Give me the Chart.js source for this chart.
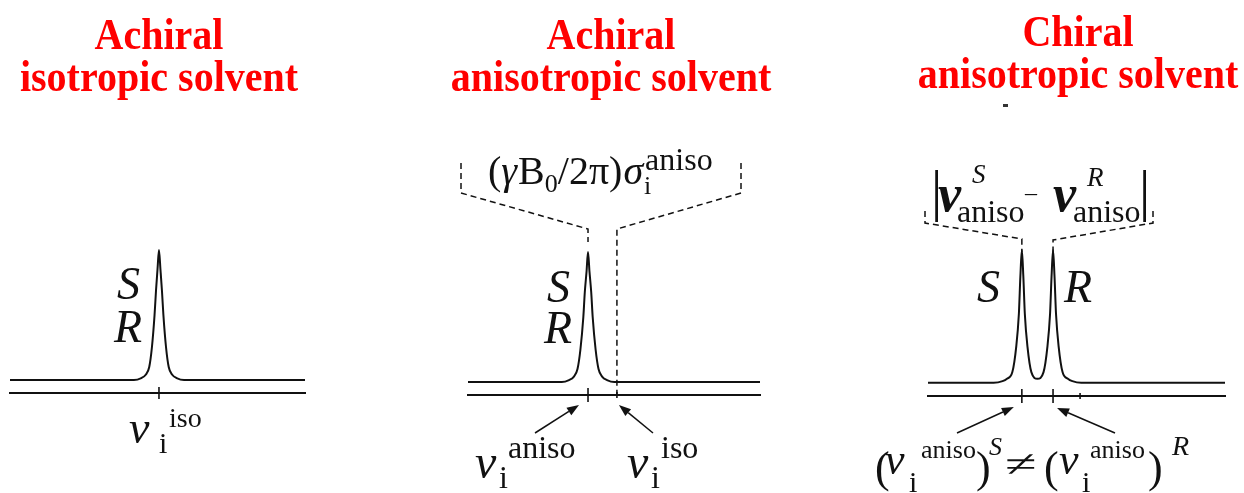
<!DOCTYPE html>
<html>
<head>
<meta charset="utf-8">
<script src="https://cdn.jsdelivr.net/npm/chart.js@4.4.0/dist/chart.umd.min.js"></script>
<style>
  html, body { margin: 0; padding: 0; background: #fff; }
  #wrap { position: relative; width: 1244px; height: 493px; overflow: hidden; }
  #wrap canvas { position: absolute; left: 0; top: 0; }
</style>
</head>
<body>
<div id="wrap">
  <canvas id="c1" width="1244" height="493"></canvas>
  <canvas id="c2" width="1244" height="493"></canvas>
  <canvas id="c3" width="1244" height="493"></canvas>
</div>
<script>
// frequency axis in arbitrary units (0..100 per panel), intensity normalised to the peak

// panel 1: achiral isotropic solvent
const isoX = [0, 42, 44.5, 46, 47.2, 48.1, 49, 49.5, 50, 50.5, 51, 51.5, 52, 52.9, 53.8, 55, 56.5, 59, 100];
const isoY = [0, 0, 0.015, 0.04, 0.1, 0.25, 0.5, 0.69, 0.85, 1.0, 0.85, 0.69, 0.5, 0.25, 0.1, 0.04, 0.015, 0, 0];
const isoTicks = [50.5];

// panel 2: achiral anisotropic solvent (aniso peak, iso position)
const anisoX = [0, 32.1, 34.6, 36.2, 37.5, 38.5, 39.5, 40.0, 40.6, 41.1, 41.6, 42.2, 42.7, 43.7, 44.7, 46.0, 47.6, 50.1, 100];
const anisoY = [0, 0, 0.015, 0.04, 0.1, 0.25, 0.5, 0.69, 0.85, 1.0, 0.85, 0.69, 0.5, 0.25, 0.1, 0.04, 0.015, 0, 0];
const anisoTicks = [41.1, 51.0];

// panel 3: chiral anisotropic solvent (S peak, R peak, extra mark)
const chiralX = [0, 22.1, 25.1, 26.6, 28.4, 29.7, 30.6, 31.1, 31.6, 32.1, 32.6, 33.5, 34.8, 36.85, 38.9, 40.2, 41.1, 41.6, 42.1, 42.6, 43.1, 44.0, 45.3, 47.1, 48.6, 51.6, 100];
const chiralY = [0, 0, 0.012, 0.03, 0.08, 0.27, 0.52, 0.8, 1.0, 0.8, 0.52, 0.27, 0.08, 0.03, 0.08, 0.27, 0.52, 0.8, 1.0, 0.8, 0.52, 0.27, 0.08, 0.03, 0.012, 0, 0];
const chiralTicks = [31.6, 42.1, 51.2];

const titles1 = ['Achiral', 'isotropic solvent'];
const titles2 = ['Achiral', 'anisotropic solvent'];
const titles3 = ['Chiral', 'anisotropic solvent'];

const SERIF = '"Liberation Serif", "Times New Roman", serif';
const f = (style, size) => `${style} ${size}px ${SERIF}`;
const INK = '#111';

function text(ctx, s, x, y, font, align, sx) {
    ctx.save();
    ctx.font = font;
    ctx.fillStyle = INK;
    ctx.textAlign = align || 'left';
    ctx.textBaseline = 'alphabetic';
    ctx.translate(x, y);
    ctx.scale(sx || 1, 1);
    ctx.fillText(s, 0, 0);
    ctx.restore();
}

// run of text pieces: [string, font, dy, dx, keepX]
function seq(ctx, x, y, parts) {
    let cx = x;
    parts.forEach(p => {
        const dy = p[2] || 0, dx = p[3] || 0;
        text(ctx, p[0], cx + dx, y + dy, p[1]);
        ctx.font = p[1];
        if (!p[4]) cx += dx + ctx.measureText(p[0]).width;
    });
}

function titles(ctx, lines, cx, bases) {
    ctx.save();
    ctx.fillStyle = '#ff0000';
    ctx.font = f('bold', 40);
    ctx.textAlign = 'center';
    ctx.textBaseline = 'alphabetic';
    lines.forEach((s, i) => {
        ctx.save();
        ctx.translate(cx, bases[i]);
        ctx.scale(1, 1.12);
        ctx.fillText(s, 0, 0);
        ctx.restore();
    });
    ctx.restore();
}

function dashed(ctx, pts) {
    ctx.save();
    ctx.strokeStyle = INK;
    ctx.lineWidth = 1.5;
    ctx.setLineDash([6, 4]);
    ctx.beginPath();
    pts.forEach((p, i) => i ? ctx.lineTo(p[0], p[1]) : ctx.moveTo(p[0], p[1]));
    ctx.stroke();
    ctx.restore();
}

function arrow(ctx, x1, y1, x2, y2) {
    const a = Math.atan2(y2 - y1, x2 - x1);
    const L = 12, W = 4.5;
    ctx.save();
    ctx.strokeStyle = INK;
    ctx.fillStyle = INK;
    ctx.lineWidth = 1.5;
    ctx.beginPath();
    ctx.moveTo(x1, y1);
    ctx.lineTo(x2 - L * Math.cos(a), y2 - L * Math.sin(a));
    ctx.stroke();
    ctx.beginPath();
    ctx.moveTo(x2, y2);
    ctx.lineTo(x2 - L * Math.cos(a) + W * Math.sin(a), y2 - L * Math.sin(a) - W * Math.cos(a));
    ctx.lineTo(x2 - L * Math.cos(a) - W * Math.sin(a), y2 - L * Math.sin(a) + W * Math.cos(a));
    ctx.closePath();
    ctx.fill();
    ctx.restore();
}

function axisTicks(chart, values, halfLengths) {
    const ctx = chart.ctx, x = chart.scales.x, yb = chart.chartArea.bottom;
    ctx.save();
    ctx.strokeStyle = INK;
    ctx.lineWidth = 1.6;
    values.forEach((v, i) => {
        const px = x.getPixelForValue(v);
        ctx.beginPath();
        ctx.moveTo(px, yb - halfLengths[i]);
        ctx.lineTo(px, yb + halfLengths[i]);
        ctx.stroke();
    });
    ctx.restore();
}

function makeChart(id, xs, ys, pad, extras) {
    return new Chart(document.getElementById(id), {
        type: 'line',
        data: {
            datasets: [{
                data: xs.map((x, i) => ({ x: x, y: ys[i] })),
                borderColor: INK,
                borderWidth: 2,
                pointRadius: 0,
                fill: false,
                cubicInterpolationMode: 'monotone',
                clip: false
            }]
        },
        options: {
            responsive: false,
            animation: false,
            devicePixelRatio: 1,
            layout: { padding: pad },
            scales: {
                x: {
                    type: 'linear', min: 0, max: 100,
                    ticks: { display: false },
                    grid: { display: false, drawTicks: false },
                    border: { display: true, color: INK, width: 2 }
                },
                y: { type: 'linear', min: -0.1, max: 1, display: false }
            },
            plugins: {
                legend: { display: false },
                tooltip: { enabled: false }
            }
        },
        plugins: [{ id: 'extras', afterDraw: extras }]
    });
}

// panel 1
makeChart('c1', isoX, isoY, { left: 10, right: 939, top: 250, bottom: 100 }, chart => {
    const ctx = chart.ctx;
    titles(ctx, titles1, 159, [49, 91]);
    axisTicks(chart, isoTicks, [6]);
    text(ctx, 'S', 117, 299, f('italic', 46));
    text(ctx, 'R', 114, 342, f('italic', 46));
    text(ctx, 'ν', 129, 443, f('italic', 46));
    text(ctx, 'i', 159, 453, f('', 30));
    text(ctx, 'iso', 169, 427, f('', 28));
});

// panel 2
makeChart('c2', anisoX, anisoY, { left: 468, right: 484, top: 252, bottom: 98 }, chart => {
    const ctx = chart.ctx, x = chart.scales.x, yb = chart.chartArea.bottom;
    const pA = x.getPixelForValue(anisoTicks[0]);
    const pI = x.getPixelForValue(anisoTicks[1]);
    titles(ctx, titles2, 611, [49, 91]);
    axisTicks(chart, anisoTicks, [7, 3]);
    dashed(ctx, [[461, 163], [461, 193], [pA, 229], [pA, 242]]);
    dashed(ctx, [[741, 163], [741, 193], [pI, 229], [pI, yb + 2]]);
    // (γB0/2π)σ_i^aniso
    seq(ctx, 488, 184, [
        ['(', f('', 40)],
        ['γ', f('italic', 40)],
        ['B', f('', 40), 0, 1],
        ['0', f('', 26), 8],
        ['/2π)', f('', 40)],
        ['σ', f('italic', 40), 0, 1],
        ['i', f('', 26), 10, 1, true],
        ['aniso', f('', 32), -14, 2]
    ]);
    text(ctx, 'S', 547, 302, f('italic', 46));
    text(ctx, 'R', 544, 343, f('italic', 46));
    arrow(ctx, 535, 433, pA - 9, yb + 10);
    arrow(ctx, 653, 433, pI + 2, yb + 10);
    text(ctx, 'ν', 475, 478, f('italic', 48));
    text(ctx, 'i', 499, 488, f('', 32));
    text(ctx, 'aniso', 508, 458, f('', 32));
    text(ctx, 'ν', 627, 478, f('italic', 48));
    text(ctx, 'i', 651, 488, f('', 32));
    text(ctx, 'iso', 661, 458, f('', 32));
});

// panel 3
makeChart('c3', chiralX, chiralY, { left: 928, right: 19, top: 250, bottom: 97 }, chart => {
    const ctx = chart.ctx, x = chart.scales.x, yb = chart.chartArea.bottom;
    const pS = x.getPixelForValue(chiralTicks[0]);
    const pR = x.getPixelForValue(chiralTicks[1]);
    titles(ctx, titles3, 1078, [46, 88]);
    ctx.fillStyle = '#333';
    ctx.fillRect(1003, 104, 5, 3);
    axisTicks(chart, chiralTicks, [7, 7, 3]);
    dashed(ctx, [[925, 211], [925, 223], [pS, 239], [pS, 252]]);
    dashed(ctx, [[1153, 211], [1153, 223], [pR, 240], [pR, 252]]);
    // |ν^S_aniso – ν^R_aniso|
    text(ctx, '|', 931, 210, f('', 56));
    text(ctx, 'ν', 938, 211, f('bold italic', 52));
    text(ctx, 'S', 972, 183, f('italic', 27));
    text(ctx, 'aniso', 957, 222, f('', 32));
    text(ctx, '–', 1025, 200, f('', 24));
    text(ctx, 'ν', 1053, 211, f('bold italic', 52));
    text(ctx, 'R', 1087, 186, f('italic', 27));
    text(ctx, 'aniso', 1073, 222, f('', 32));
    text(ctx, '|', 1139, 210, f('', 56));
    text(ctx, 'S', 977, 302, f('italic', 46));
    text(ctx, 'R', 1064, 302, f('italic', 46));
    arrow(ctx, 957, 433, pS - 8, yb + 11);
    arrow(ctx, 1115, 433, pR + 4, yb + 12);
    // (ν_i^aniso)^S ≠ (ν_i^aniso)^R
    text(ctx, '(', 875, 482, f('', 44));
    text(ctx, 'ν', 885, 474, f('italic', 44));
    text(ctx, 'i', 909, 492, f('', 30));
    text(ctx, 'aniso', 921, 458, f('', 26));
    text(ctx, ')', 976, 482, f('', 44));
    text(ctx, 'S', 989, 455, f('italic', 26));
    text(ctx, '≠', 1021, 476, f('', 36), 'center', 1.6);
    text(ctx, '(', 1044, 482, f('', 44));
    text(ctx, 'ν', 1059, 474, f('italic', 44));
    text(ctx, 'i', 1082, 492, f('', 30));
    text(ctx, 'aniso', 1090, 458, f('', 26));
    text(ctx, ')', 1148, 482, f('', 44));
    text(ctx, 'R', 1172, 455, f('italic', 28));
});
</script>
</body>
</html>
